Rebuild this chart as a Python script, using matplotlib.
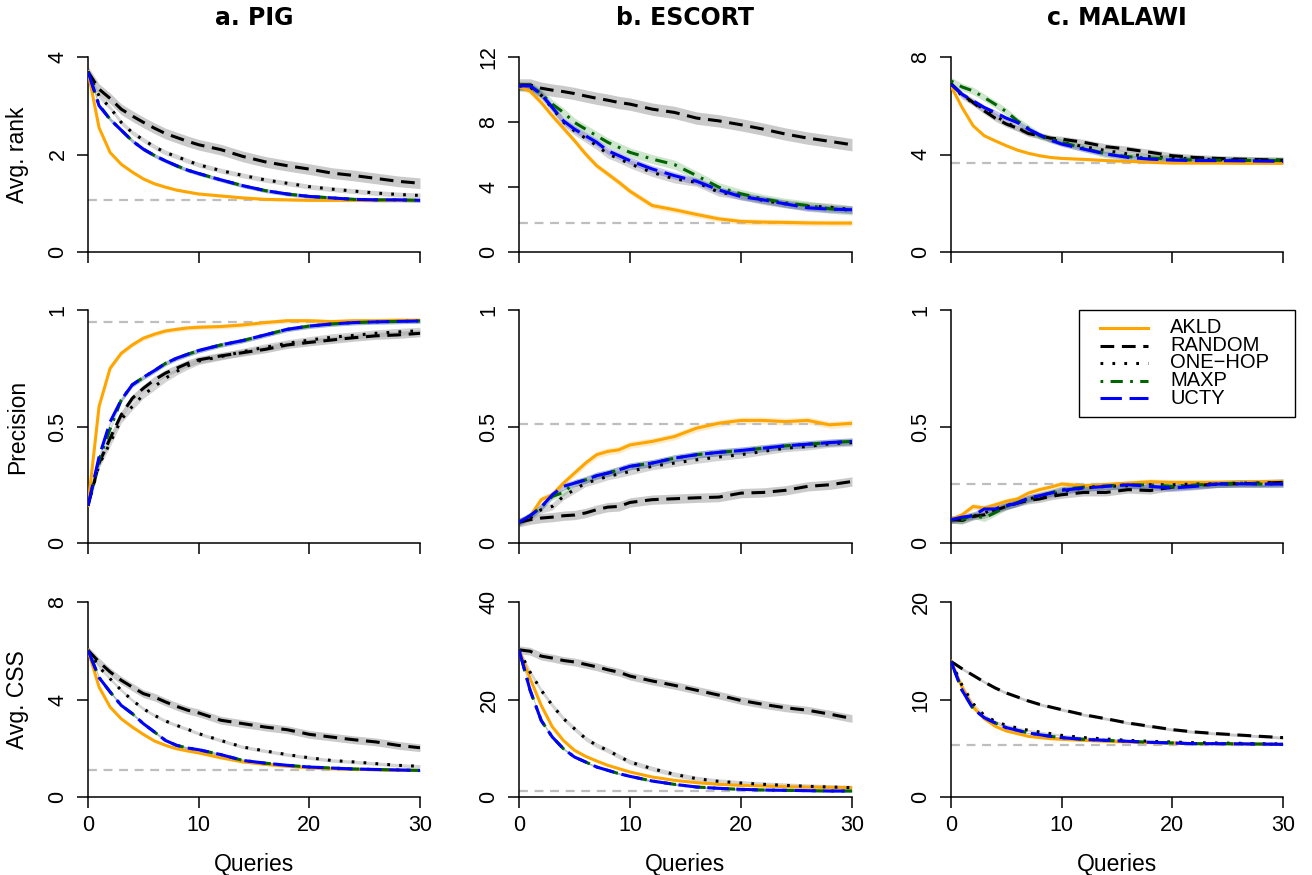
import matplotlib
matplotlib.use("Agg")
import matplotlib.pyplot as plt
from matplotlib.ticker import FixedLocator
from matplotlib.lines import Line2D
from matplotlib.patches import Rectangle

plt.rcParams['font.family'] = ['Liberation Sans', 'DejaVu Sans']

# ---------------- data ----------------
X = [0, 1, 2, 3, 4, 5, 6, 7, 8, 9, 10, 12, 14, 16, 18, 20, 22, 24, 26, 28, 30]
methods = ["AKLD", "RANDOM", "ONE\u2212HOP", "MAXP", "UCTY"]
datasets = ["a. PIG", "b. ESCORT", "c. MALAWI"]
metrics = ["Avg. rank", "Precision", "Avg. CSS"]

# PIG - Avg. rank
pig_rank_akld = [3.70, 2.55, 2.04, 1.80, 1.64, 1.50, 1.40, 1.33, 1.27, 1.23, 1.19, 1.15, 1.11, 1.08, 1.07, 1.06, 1.06, 1.06, 1.06, 1.06, 1.06]
pig_rank_random = [3.70, 3.34, 3.15, 2.93, 2.79, 2.66, 2.54, 2.43, 2.35, 2.27, 2.20, 2.10, 1.96, 1.85, 1.77, 1.70, 1.62, 1.57, 1.51, 1.45, 1.41]
pig_rank_onehop = [3.70, 3.20, 2.96, 2.66, 2.45, 2.30, 2.16, 2.04, 1.96, 1.87, 1.79, 1.67, 1.57, 1.48, 1.41, 1.34, 1.29, 1.25, 1.21, 1.18, 1.16]
pig_rank_maxp = [3.70, 3.02, 2.72, 2.50, 2.28, 2.11, 1.98, 1.87, 1.77, 1.68, 1.61, 1.48, 1.36, 1.26, 1.19, 1.14, 1.11, 1.08, 1.07, 1.07, 1.06]
pig_rank_ucty = [3.70, 3.00, 2.72, 2.50, 2.28, 2.11, 1.98, 1.87, 1.77, 1.68, 1.61, 1.48, 1.36, 1.26, 1.19, 1.14, 1.11, 1.08, 1.07, 1.07, 1.06]
pig_rank_band = [0.03, 0.11, 0.05, 0.04, 0.04]
pig_rank_ref = 1.06

# ESCORT - Avg. rank
escort_rank_akld = [10.18, 9.90, 9.20, 8.38, 7.62, 6.85, 6.03, 5.31, 4.80, 4.29, 3.74, 2.86, 2.60, 2.31, 2.04, 1.88, 1.84, 1.82, 1.79, 1.78, 1.78]
escort_rank_random = [10.28, 10.28, 10.08, 9.96, 9.87, 9.75, 9.60, 9.46, 9.34, 9.20, 9.10, 8.79, 8.59, 8.24, 8.07, 7.83, 7.56, 7.26, 7.01, 6.81, 6.60]
escort_rank_onehop = [10.22, 10.15, 9.65, 8.85, 8.00, 7.45, 7.00, 6.55, 6.03, 5.75, 5.42, 4.90, 4.50, 4.29, 3.68, 3.48, 3.17, 2.96, 2.82, 2.76, 2.60]
escort_rank_maxp = [10.22, 10.22, 9.75, 9.10, 8.59, 7.97, 7.56, 7.15, 6.75, 6.44, 6.13, 5.72, 5.38, 4.70, 3.99, 3.58, 3.27, 3.03, 2.86, 2.66, 2.56]
escort_rank_ucty = [10.22, 10.22, 9.71, 8.89, 8.07, 7.56, 7.15, 6.75, 6.23, 5.93, 5.62, 5.11, 4.70, 4.35, 3.82, 3.41, 3.21, 2.96, 2.72, 2.64, 2.60]
escort_rank_band = [0.18, 0.38, 0.25, 0.28, 0.22]
escort_rank_ref = 1.78

# MALAWI - Avg. rank
malawi_rank_akld = [6.81, 5.93, 5.18, 4.77, 4.56, 4.36, 4.18, 4.05, 3.95, 3.88, 3.84, 3.80, 3.75, 3.72, 3.68, 3.65, 3.65, 3.65, 3.64, 3.64, 3.64]
malawi_rank_random = [6.90, 6.47, 6.13, 5.79, 5.49, 5.25, 5.08, 4.86, 4.77, 4.67, 4.63, 4.50, 4.32, 4.22, 4.09, 3.95, 3.88, 3.84, 3.81, 3.79, 3.77]
malawi_rank_onehop = [6.90, 6.40, 6.13, 5.86, 5.59, 5.31, 5.08, 4.90, 4.77, 4.63, 4.50, 4.32, 4.16, 4.02, 3.91, 3.86, 3.81, 3.79, 3.78, 3.76, 3.75]
malawi_rank_maxp = [7.02, 6.77, 6.61, 6.34, 6.06, 5.76, 5.38, 5.08, 4.77, 4.63, 4.50, 4.26, 4.02, 3.91, 3.86, 3.81, 3.77, 3.77, 3.76, 3.75, 3.75]
malawi_rank_ucty = [6.88, 6.47, 6.20, 5.93, 5.72, 5.49, 5.31, 5.04, 4.81, 4.59, 4.43, 4.22, 4.02, 3.88, 3.81, 3.77, 3.75, 3.75, 3.74, 3.73, 3.72]
malawi_rank_band = [0.05, 0.12, 0.12, 0.15, 0.10]
malawi_rank_ref = 3.65

# PIG - Precision
pig_prec_akld = [0.16, 0.586, 0.75, 0.814, 0.85, 0.879, 0.896, 0.91, 0.917, 0.923, 0.926, 0.929, 0.936, 0.946, 0.954, 0.954, 0.95, 0.954, 0.954, 0.956, 0.956]
pig_prec_random = [0.16, 0.343, 0.45, 0.55, 0.621, 0.664, 0.70, 0.729, 0.75, 0.771, 0.786, 0.803, 0.817, 0.831, 0.85, 0.861, 0.871, 0.881, 0.889, 0.893, 0.90]
pig_prec_onehop = [0.16, 0.336, 0.43, 0.53, 0.586, 0.636, 0.671, 0.707, 0.736, 0.76, 0.781, 0.80, 0.821, 0.84, 0.857, 0.871, 0.883, 0.891, 0.90, 0.906, 0.911]
pig_prec_maxp = [0.16, 0.357, 0.49, 0.614, 0.679, 0.711, 0.74, 0.771, 0.793, 0.81, 0.826, 0.85, 0.869, 0.893, 0.917, 0.931, 0.94, 0.946, 0.949, 0.951, 0.953]
pig_prec_ucty = [0.16, 0.37, 0.52, 0.614, 0.679, 0.711, 0.74, 0.771, 0.793, 0.81, 0.826, 0.85, 0.869, 0.893, 0.917, 0.931, 0.94, 0.946, 0.949, 0.951, 0.953]
pig_prec_band = [0.01, 0.015, 0.015, 0.01, 0.01]
pig_prec_ref = 0.95

# ESCORT - Precision
escort_prec_akld = [0.089, 0.114, 0.186, 0.207, 0.257, 0.30, 0.343, 0.379, 0.393, 0.40, 0.421, 0.436, 0.457, 0.493, 0.514, 0.526, 0.526, 0.521, 0.526, 0.507, 0.514]
escort_prec_random = [0.089, 0.10, 0.107, 0.111, 0.117, 0.12, 0.129, 0.143, 0.154, 0.157, 0.174, 0.186, 0.19, 0.194, 0.197, 0.214, 0.217, 0.226, 0.243, 0.25, 0.264]
escort_prec_onehop = [0.089, 0.107, 0.143, 0.157, 0.20, 0.229, 0.257, 0.271, 0.286, 0.296, 0.307, 0.329, 0.343, 0.357, 0.369, 0.379, 0.393, 0.407, 0.414, 0.426, 0.431]
escort_prec_maxp = [0.089, 0.117, 0.154, 0.20, 0.217, 0.257, 0.271, 0.289, 0.30, 0.314, 0.329, 0.343, 0.364, 0.379, 0.389, 0.397, 0.407, 0.417, 0.424, 0.431, 0.436]
escort_prec_ucty = [0.089, 0.117, 0.154, 0.207, 0.243, 0.257, 0.271, 0.289, 0.30, 0.314, 0.329, 0.343, 0.364, 0.379, 0.389, 0.397, 0.407, 0.417, 0.424, 0.431, 0.436]
escort_prec_band = [0.015, 0.02, 0.015, 0.015, 0.015]
escort_prec_ref = 0.511

# MALAWI - Precision
malawi_prec_akld = [0.10, 0.121, 0.157, 0.15, 0.164, 0.179, 0.189, 0.214, 0.229, 0.24, 0.253, 0.246, 0.25, 0.257, 0.263, 0.26, 0.26, 0.26, 0.26, 0.262, 0.264]
malawi_prec_random = [0.10, 0.097, 0.114, 0.121, 0.14, 0.157, 0.171, 0.183, 0.189, 0.20, 0.207, 0.217, 0.217, 0.229, 0.225, 0.24, 0.246, 0.253, 0.254, 0.257, 0.26]
malawi_prec_onehop = [0.10, 0.097, 0.114, 0.129, 0.146, 0.16, 0.174, 0.189, 0.20, 0.207, 0.221, 0.236, 0.243, 0.246, 0.25, 0.25, 0.253, 0.254, 0.257, 0.257, 0.26]
malawi_prec_maxp = [0.10, 0.10, 0.121, 0.107, 0.131, 0.157, 0.174, 0.189, 0.203, 0.215, 0.229, 0.24, 0.245, 0.25, 0.249, 0.243, 0.249, 0.253, 0.257, 0.253, 0.254]
malawi_prec_ucty = [0.10, 0.111, 0.117, 0.146, 0.146, 0.16, 0.171, 0.193, 0.203, 0.214, 0.226, 0.236, 0.243, 0.25, 0.243, 0.236, 0.243, 0.253, 0.254, 0.253, 0.253]
malawi_prec_band = [0.012, 0.015, 0.015, 0.015, 0.015]
malawi_prec_ref = 0.253

# PIG - Avg. CSS
pig_css_akld = [6.02, 4.51, 3.69, 3.21, 2.87, 2.57, 2.30, 2.12, 1.98, 1.89, 1.81, 1.61, 1.44, 1.34, 1.26, 1.20, 1.16, 1.14, 1.12, 1.10, 1.09]
pig_css_random = [6.02, 5.54, 5.13, 4.79, 4.51, 4.24, 4.10, 3.90, 3.72, 3.56, 3.45, 3.15, 3.01, 2.87, 2.76, 2.57, 2.46, 2.35, 2.26, 2.12, 2.02]
pig_css_onehop = [6.02, 5.33, 4.85, 4.38, 3.97, 3.62, 3.35, 3.12, 2.94, 2.78, 2.60, 2.32, 2.05, 1.89, 1.74, 1.61, 1.50, 1.44, 1.37, 1.30, 1.26]
pig_css_maxp = [6.02, 4.90, 4.31, 3.76, 3.42, 3.01, 2.67, 2.32, 2.12, 2.01, 1.94, 1.74, 1.50, 1.39, 1.30, 1.23, 1.19, 1.15, 1.13, 1.11, 1.09]
pig_css_ucty = [6.02, 4.90, 4.31, 3.76, 3.42, 3.01, 2.67, 2.32, 2.12, 2.01, 1.94, 1.74, 1.50, 1.39, 1.30, 1.23, 1.19, 1.15, 1.13, 1.11, 1.09]
pig_css_band = [0.05, 0.16, 0.07, 0.05, 0.05]
pig_css_ref = 1.09

# ESCORT - Avg. CSS
escort_css_akld = [30.2, 24.3, 18.8, 14.4, 11.6, 9.57, 8.34, 7.38, 6.50, 5.81, 5.13, 4.10, 3.42, 2.94, 2.60, 2.39, 2.26, 2.12, 2.05, 1.98, 1.91]
escort_css_random = [30.2, 29.9, 28.9, 28.5, 28.0, 27.7, 27.2, 26.7, 26.1, 25.6, 24.8, 23.8, 22.9, 21.9, 20.9, 19.8, 19.0, 18.3, 17.8, 17.0, 16.1]
escort_css_onehop = [30.2, 25.6, 21.9, 18.8, 16.1, 14.0, 12.0, 10.6, 9.57, 8.34, 7.18, 5.81, 4.65, 3.76, 3.21, 2.87, 2.60, 2.39, 2.19, 2.05, 1.91]
escort_css_maxp = [30.2, 21.9, 15.7, 12.3, 9.9, 8.2, 7.18, 6.15, 5.47, 4.79, 4.24, 3.28, 2.60, 2.05, 1.78, 1.57, 1.44, 1.37, 1.30, 1.23, 1.23]
escort_css_ucty = [30.2, 21.9, 15.7, 12.3, 9.9, 8.2, 7.18, 6.15, 5.47, 4.79, 4.24, 3.28, 2.60, 2.05, 1.78, 1.57, 1.44, 1.37, 1.30, 1.23, 1.23]
escort_css_band = [0.15, 0.8, 0.5, 0.2, 0.2]
escort_css_ref = 1.23

# MALAWI - Avg. CSS
malawi_css_akld = [13.9, 11.28, 9.23, 8.03, 7.25, 6.77, 6.50, 6.22, 6.09, 5.98, 5.91, 5.81, 5.71, 5.64, 5.57, 5.54, 5.47, 5.47, 5.45, 5.43, 5.40]
malawi_css_random = [13.9, 13.16, 12.48, 11.80, 11.18, 10.67, 10.26, 9.85, 9.50, 9.23, 8.96, 8.44, 8.03, 7.59, 7.25, 6.91, 6.67, 6.50, 6.36, 6.22, 6.09]
malawi_css_onehop = [13.9, 11.45, 9.57, 8.38, 7.76, 7.35, 7.08, 6.84, 6.67, 6.50, 6.32, 6.09, 5.95, 5.81, 5.71, 5.64, 5.57, 5.54, 5.51, 5.47, 5.44]
malawi_css_maxp = [13.9, 10.94, 9.06, 8.14, 7.59, 7.11, 6.84, 6.56, 6.39, 6.22, 6.09, 5.91, 5.81, 5.71, 5.61, 5.54, 5.47, 5.47, 5.45, 5.43, 5.40]
malawi_css_ucty = [13.9, 10.94, 9.06, 8.14, 7.59, 7.11, 6.84, 6.56, 6.39, 6.22, 6.09, 5.91, 5.81, 5.71, 5.61, 5.54, 5.47, 5.47, 5.45, 5.43, 5.40]
malawi_css_band = [0.05, 0.15, 0.10, 0.05, 0.05]
malawi_css_ref = 5.37

# axis ticks per panel (row, col)
x_ticks = [0, 10, 20, 30]
y_ticks = [
    [[0, 2, 4], [0, 4, 8, 12], [0, 4, 8]],
    [[0, 0.5, 1], [0, 0.5, 1], [0, 0.5, 1]],
    [[0, 4, 8], [0, 20, 40], [0, 10, 20]],
]
y_ticklabels = [
    [["0", "2", "4"], ["0", "4", "8", "12"], ["0", "4", "8"]],
    [["0", "0.5", "1"], ["0", "0.5", "1"], ["0", "0.5", "1"]],
    [["0", "4", "8"], ["0", "20", "40"], ["0", "10", "20"]],
]

panels = [
    [
        ([pig_rank_akld, pig_rank_random, pig_rank_onehop, pig_rank_maxp, pig_rank_ucty], pig_rank_band, pig_rank_ref),
        ([escort_rank_akld, escort_rank_random, escort_rank_onehop, escort_rank_maxp, escort_rank_ucty], escort_rank_band, escort_rank_ref),
        ([malawi_rank_akld, malawi_rank_random, malawi_rank_onehop, malawi_rank_maxp, malawi_rank_ucty], malawi_rank_band, malawi_rank_ref),
    ],
    [
        ([pig_prec_akld, pig_prec_random, pig_prec_onehop, pig_prec_maxp, pig_prec_ucty], pig_prec_band, pig_prec_ref),
        ([escort_prec_akld, escort_prec_random, escort_prec_onehop, escort_prec_maxp, escort_prec_ucty], escort_prec_band, escort_prec_ref),
        ([malawi_prec_akld, malawi_prec_random, malawi_prec_onehop, malawi_prec_maxp, malawi_prec_ucty], malawi_prec_band, malawi_prec_ref),
    ],
    [
        ([pig_css_akld, pig_css_random, pig_css_onehop, pig_css_maxp, pig_css_ucty], pig_css_band, pig_css_ref),
        ([escort_css_akld, escort_css_random, escort_css_onehop, escort_css_maxp, escort_css_ucty], escort_css_band, escort_css_ref),
        ([malawi_css_akld, malawi_css_random, malawi_css_onehop, malawi_css_maxp, malawi_css_ucty], malawi_css_band, malawi_css_ref),
    ],
]

# ---------------- styles ----------------
line_colors = ["#FFA500", "#000000", "#000000", "#006400", "#0000FF"]
band_colors = ["#FFA500", "#A0A0A0", "#A0A0A0", "#228B22", "#3333CC"]
band_alpha = [0.22, 0.55, 0.45, 0.22, 0.28]
dash_styles = [None, (0, (4.5, 2.5)), (0, (0.9, 3.0)), (0, (0.9, 2.4, 4.0, 2.4)), (0, (7.0, 2.5))]
LW = 2.2

W, H = 1312, 875
col_x0 = [88, 519, 951]
col_w = [332, 333, 332]
row_top = [57, 310, 602]
row_bot = [252, 543, 797]

TICK_FS = 15.5
LAB_FS = 16.5
TITLE_FS = 17
LEG_FS = 14.5

fig = plt.figure(figsize=(W / 100, H / 100), dpi=100)


def style_kw(i):
    kw = dict(color=line_colors[i], lw=LW, solid_joinstyle="round")
    if dash_styles[i] is not None:
        kw["linestyle"] = dash_styles[i]
        kw["dash_capstyle"] = "butt"
    return kw


for r in range(3):
    for c in range(3):
        ax = fig.add_axes([col_x0[c] / W, 1 - row_bot[r] / H, col_w[c] / W, (row_bot[r] - row_top[r]) / H])
        series, bands, ref = panels[r][c]
        for i, ys in enumerate(series):
            lo = [v - bands[i] for v in ys]
            hi = [v + bands[i] for v in ys]
            ax.fill_between(X, lo, hi, color=band_colors[i], alpha=band_alpha[i], lw=0, zorder=1)
        ax.axhline(ref, color="#BEBEBE", lw=1.6, ls=(0, (4, 3)), zorder=2)
        for i, ys in enumerate(series):
            ax.plot(X, ys, zorder=3 + i, **style_kw(i))
        ymax = y_ticks[r][c][-1]
        ax.set_xlim(0, 30)
        ax.set_ylim(0, ymax)
        for s in ("top", "right"):
            ax.spines[s].set_visible(False)
        for s in ("left", "bottom"):
            ax.spines[s].set_linewidth(1.1)
        ax.xaxis.set_major_locator(FixedLocator(x_ticks))
        ax.yaxis.set_major_locator(FixedLocator(y_ticks[r][c]))
        ax.set_yticklabels(y_ticklabels[r][c], rotation=90, va="center")
        ax.tick_params(axis="both", direction="out", length=8, width=1.1, labelsize=TICK_FS)
        ax.tick_params(axis="y", pad=6)
        ax.tick_params(axis="x", pad=5)
        if r < 2:
            ax.set_xticklabels([])
        else:
            ax.set_xticklabels([str(t) for t in x_ticks])
            ax.set_xlabel("Queries", fontsize=LAB_FS, labelpad=12)
        if c == 0:
            ax.set_ylabel(metrics[r], fontsize=LAB_FS)
            ax.yaxis.set_label_coords((29 - col_x0[0]) / col_w[0], 0.5)
        if r == 0:
            fig.text((col_x0[c] + col_w[c] / 2) / W, 1 - 18 / H, datasets[c],
                     ha="center", va="center", fontsize=TITLE_FS, fontweight="bold",
                     family=["DejaVu Sans"])

# legend (drawn in the MALAWI precision panel area, in figure pixels)
box_x0, box_y0, box_x1, box_y1 = 1079, 310, 1295, 417
fig.add_artist(Rectangle((box_x0 / W, 1 - box_y1 / H), (box_x1 - box_x0) / W, (box_y1 - box_y0) / H,
                         transform=fig.transFigure, fill=True, facecolor="white",
                         edgecolor="black", lw=1.0, zorder=20))
leg_rows = [328, 345.5, 363, 380.5, 398]
for i, name in enumerate(methods):
    yy = 1 - leg_rows[i] / H
    fig.add_artist(Line2D([1100 / W, 1148 / W], [yy, yy], transform=fig.transFigure, zorder=21, **style_kw(i)))
    fig.text(1170 / W, yy, name, ha="left", va="center", fontsize=LEG_FS, zorder=22)

fig.savefig("out.png", dpi=100)
